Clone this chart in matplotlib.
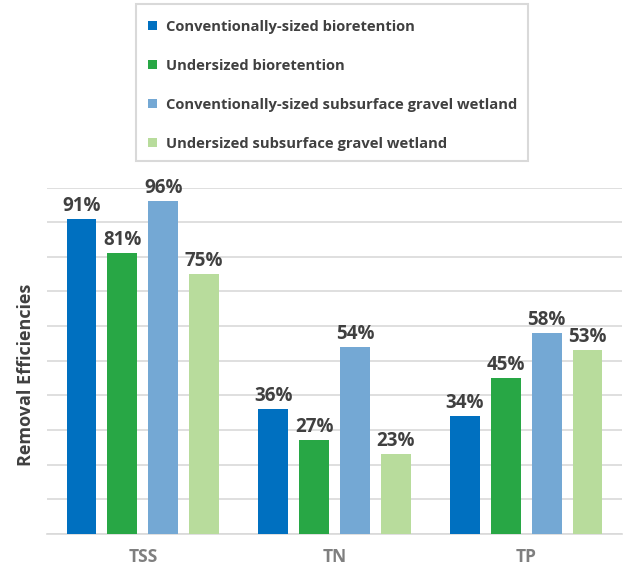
import matplotlib.pyplot as plt
from matplotlib.patches import Rectangle
import numpy as np

categories = ["TSS", "TN", "TP"]
series_names = ["Conventionally-sized bioretention",
                "Undersized bioretention",
                "Conventionally-sized subsurface gravel wetland",
                "Undersized subsurface gravel wetland"]
conv_bio = [91, 36, 34]
under_bio = [81, 27, 45]
conv_wet = [96, 54, 58]
under_wet = [75, 23, 53]
colors = ["#0070C0", "#28A745", "#74A8D4", "#B8DC9C"]

plt.rcParams['font.family'] = ['Open Sans', 'DejaVu Sans']

W, H = 627, 574
fig = plt.figure(figsize=(W/100, H/100), dpi=100)
ax = fig.add_axes([47/W, 1-534/H, 575/W, (534-187.5)/H])

x = np.arange(len(categories))
width = 0.156
step = 0.2135
series = [conv_bio, under_bio, conv_wet, under_wet]
for i, (vals, c, name) in enumerate(zip(series, colors, series_names)):
    pos = x + (i - 1.5) * step
    ax.bar(pos, vals, width, color=c, label=name, zorder=3)
    for p, v in zip(pos, vals):
        ax.text(p, v + 0.9, f"{v}%", ha='center', va='bottom', fontsize=13.5,
                fontweight='bold', color='#404040', clip_on=False, zorder=4)

ax.set_xlim(-0.5, 2.5)
ax.set_ylim(0, 100)
ax.set_yticks(np.arange(0, 101, 10))
ax.yaxis.grid(True, color='#D9D9D9', linewidth=1.2, zorder=0)
ax.set_yticklabels([])
ax.tick_params(axis='y', length=0)
ax.tick_params(axis='x', length=0, pad=10)
ax.set_xticks(x)
ax.set_xticklabels(categories, fontsize=12.5, fontweight='bold', color='#7F7F7F')
for s in ['top', 'right', 'left']:
    ax.spines[s].set_visible(False)
ax.spines['bottom'].set_color('#D9D9D9')
ax.spines['bottom'].set_linewidth(1.2)
ax.set_ylabel("Removal Efficiencies", fontsize=13, fontweight='bold', color='#404040')
ax.yaxis.set_label_coords(-(47 - 35) / 575, (534 - 375) / 346.5)

# Legend drawn in figure pixel coordinates
def fx(px):
    return px / W

def fy(py):
    return 1 - py / H

fig.patches.append(Rectangle((fx(136), fy(161)), fx(528) - fx(136), fy(4) - fy(161),
                             transform=fig.transFigure, facecolor='white',
                             edgecolor='#D9D9D9', linewidth=1.5, zorder=5))
row_y = [25, 64, 103, 142]
for name, c, yy in zip(series_names, colors, row_y):
    fig.patches.append(Rectangle((fx(148), fy(yy + 4.5)), fx(9), 9 / H,
                                 transform=fig.transFigure, facecolor=c,
                                 edgecolor='none', zorder=6))
    fig.text(fx(166), fy(yy + 2), name, ha='left', va='center', fontsize=10.65,
             fontweight='bold', color='#404040', zorder=7)

fig.savefig("out.png", dpi=100)
